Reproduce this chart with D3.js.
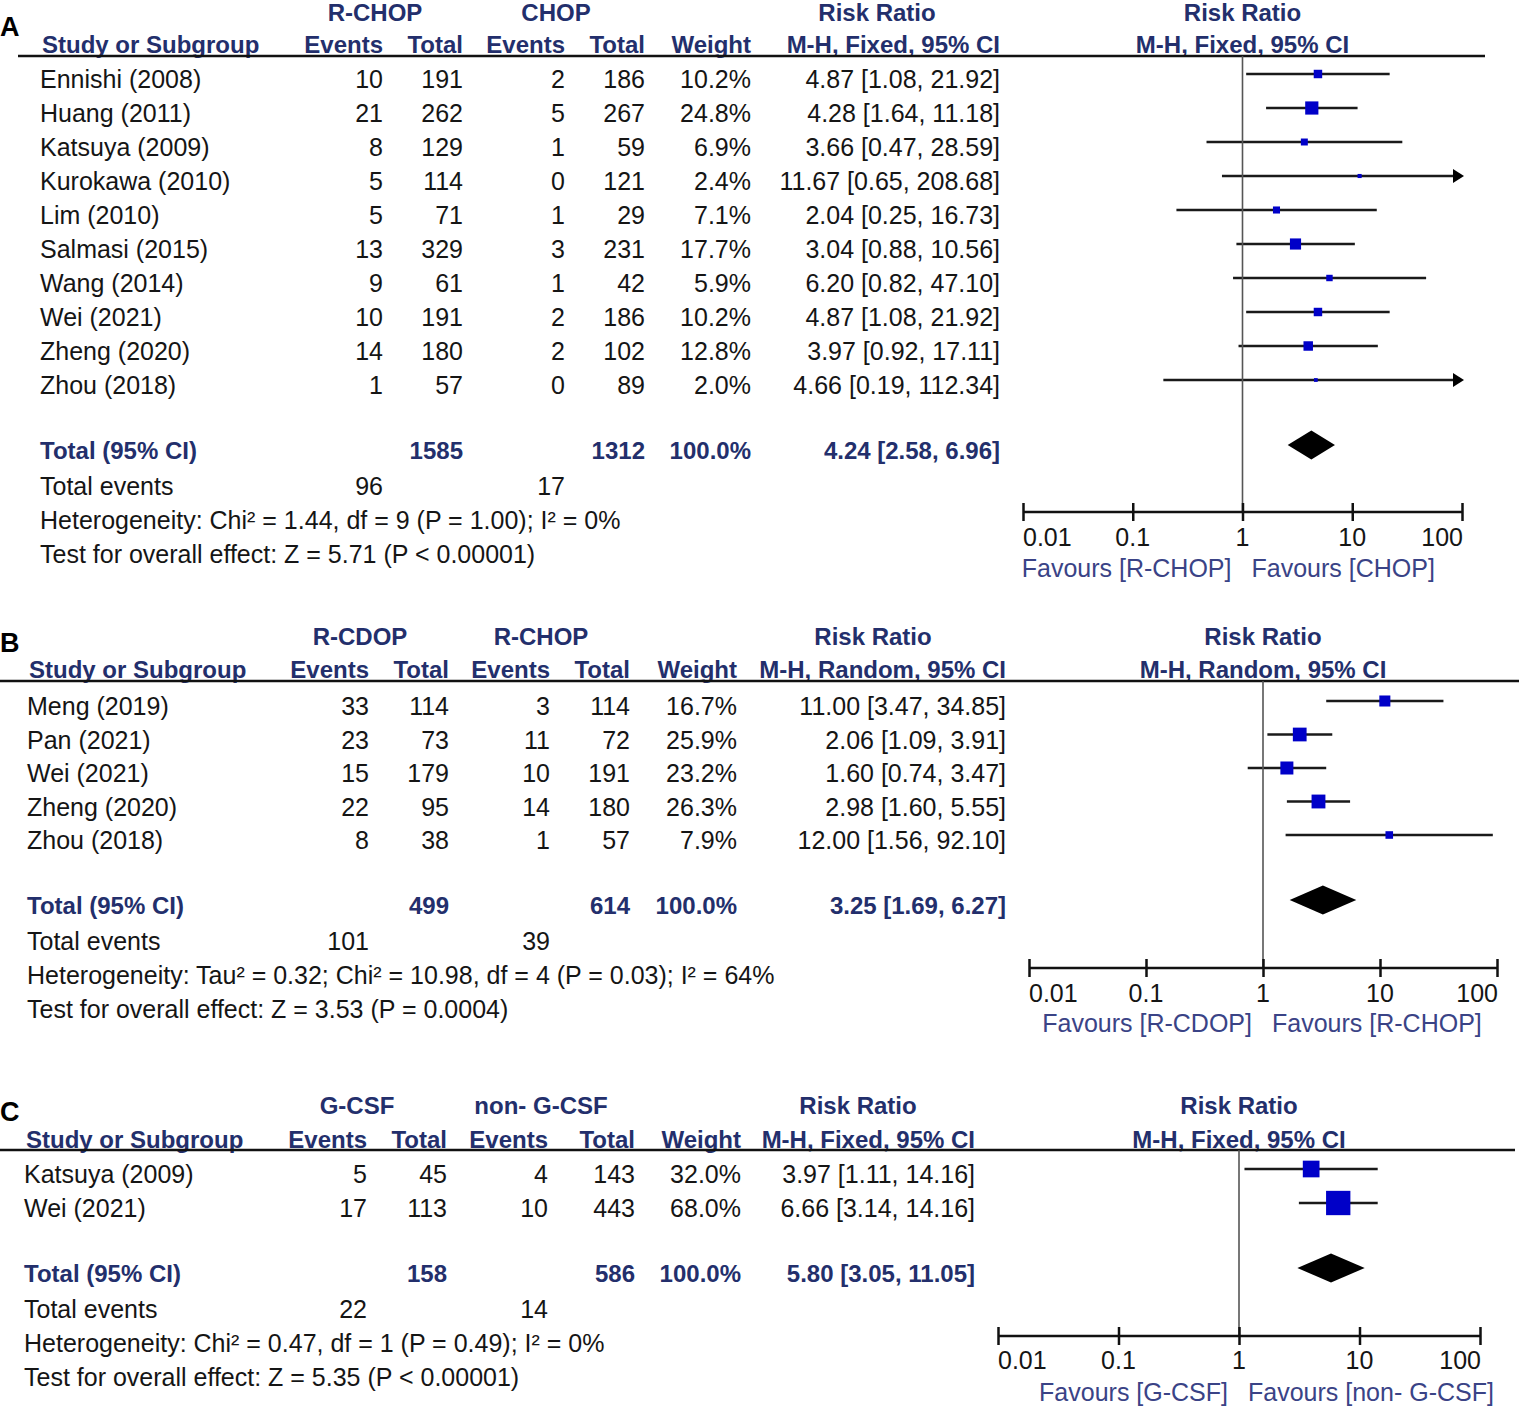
<!DOCTYPE html>
<html>
<head>
<meta charset="utf-8">
<script src="https://cdn.jsdelivr.net/npm/d3@7"></script>
<style>
  body { margin: 0; background: #fff; }
  text { font-family: "Liberation Sans", Arial, sans-serif; }
</style>
</head>
<body>
<div id="chart"></div>
<script>
// Tick labels of the risk ratio axis
var tickValues = [0.01, 0.1, 1, 10, 100];
var tickLabels = ["0.01", "0.1", "1", "10", "100"];

// Panel A: R-CHOP vs CHOP
var studiesA = ["Ennishi (2008)", "Huang (2011)", "Katsuya (2009)", "Kurokawa (2010)", "Lim (2010)",
  "Salmasi (2015)", "Wang (2014)", "Wei (2021)", "Zheng (2020)", "Zhou (2018)"];
var events1A = [10, 21, 8, 5, 5, 13, 9, 10, 14, 1];
var total1A = [191, 262, 129, 114, 71, 329, 61, 191, 180, 57];
var events2A = [2, 5, 1, 0, 1, 3, 1, 2, 2, 0];
var total2A = [186, 267, 59, 121, 29, 231, 42, 186, 102, 89];
var weightA = [10.2, 24.8, 6.9, 2.4, 7.1, 17.7, 5.9, 10.2, 12.8, 2.0];
var rrA = [4.87, 4.28, 3.66, 11.67, 2.04, 3.04, 6.20, 4.87, 3.97, 4.66];
var lowA = [1.08, 1.64, 0.47, 0.65, 0.25, 0.88, 0.82, 1.08, 0.92, 0.19];
var highA = [21.92, 11.18, 28.59, 208.68, 16.73, 10.56, 47.10, 21.92, 17.11, 112.34];
var pooledA = [4.24, 2.58, 6.96];
var sumTotalA = [1585, 1312];
var sumEventsA = [96, 17];
var groupsA = ["R-CHOP", "CHOP"];
var favoursA = ["Favours [R-CHOP]", "Favours [CHOP]"];
var methodA = "M-H, Fixed, 95% CI";
var hetA = "Heterogeneity: Chi\u00b2 = 1.44, df = 9 (P = 1.00); I\u00b2 = 0%";
var testA = "Test for overall effect: Z = 5.71 (P < 0.00001)";

// Panel B: R-CDOP vs R-CHOP
var studiesB = ["Meng (2019)", "Pan (2021)", "Wei (2021)", "Zheng (2020)", "Zhou (2018)"];
var events1B = [33, 23, 15, 22, 8];
var total1B = [114, 73, 179, 95, 38];
var events2B = [3, 11, 10, 14, 1];
var total2B = [114, 72, 191, 180, 57];
var weightB = [16.7, 25.9, 23.2, 26.3, 7.9];
var rrB = [11.00, 2.06, 1.60, 2.98, 12.00];
var lowB = [3.47, 1.09, 0.74, 1.60, 1.56];
var highB = [34.85, 3.91, 3.47, 5.55, 92.10];
var pooledB = [3.25, 1.69, 6.27];
var sumTotalB = [499, 614];
var sumEventsB = [101, 39];
var groupsB = ["R-CDOP", "R-CHOP"];
var favoursB = ["Favours [R-CDOP]", "Favours [R-CHOP]"];
var methodB = "M-H, Random, 95% CI";
var hetB = "Heterogeneity: Tau\u00b2 = 0.32; Chi\u00b2 = 10.98, df = 4 (P = 0.03); I\u00b2 = 64%";
var testB = "Test for overall effect: Z = 3.53 (P = 0.0004)";

// Panel C: G-CSF vs non- G-CSF
var studiesC = ["Katsuya (2009)", "Wei (2021)"];
var events1C = [5, 17];
var total1C = [45, 113];
var events2C = [4, 10];
var total2C = [143, 443];
var weightC = [32.0, 68.0];
var rrC = [3.97, 6.66];
var lowC = [1.11, 3.14];
var highC = [14.16, 14.16];
var pooledC = [5.80, 3.05, 11.05];
var sumTotalC = [158, 586];
var sumEventsC = [22, 14];
var groupsC = ["G-CSF", "non- G-CSF"];
var favoursC = ["Favours [G-CSF]", "Favours [non- G-CSF]"];
var methodC = "M-H, Fixed, 95% CI";
var hetC = "Heterogeneity: Chi\u00b2 = 0.47, df = 1 (P = 0.49); I\u00b2 = 0%";
var testC = "Test for overall effect: Z = 5.35 (P < 0.00001)";

var svgWidth = 1519;
var svgHeight = 1406;

var navy = "#232f6c";
var ink = "#151515";
var boxBlue = "#0000c8";

var f2 = d3.format(".2f");
var f1 = d3.format(".1f");

var svg = d3.select("#chart")
  .append("svg")
  .attr("width", svgWidth)
  .attr("height", svgHeight);

// Layout of each panel (pixel positions only)
var panels = [
  {
    letter: "A", studies: studiesA, e1: events1A, t1: total1A, e2: events2A, t2: total2A,
    w: weightA, rr: rrA, lo: lowA, hi: highA, pooled: pooledA, sumT: sumTotalA, sumE: sumEventsA,
    groups: groupsA, favours: favoursA, method: methodA, het: hetA, test: testA,
    letterY: 36, groupY: 21, headY: 53, ruleY: 56, ruleX: [18, 1485],
    firstRow: 88, step: 34, totalY: 459, eventsY: 495, hetY: 529, testY: 563,
    axisY: 512, tickY: 546, favY: 577, range: [1023, 1462], boxK: 2.65,
    col: { name: 40, e1: 383, t1: 463, e2: 565, t2: 645, w: 751, ci: 1000, g1: 375, g2: 556, rr: 877 }
  },
  {
    letter: "B", studies: studiesB, e1: events1B, t1: total1B, e2: events2B, t2: total2B,
    w: weightB, rr: rrB, lo: lowB, hi: highB, pooled: pooledB, sumT: sumTotalB, sumE: sumEventsB,
    groups: groupsB, favours: favoursB, method: methodB, het: hetB, test: testB,
    letterY: 652, groupY: 645, headY: 678, ruleY: 681, ruleX: [0, 1519],
    firstRow: 715, step: 33.5, totalY: 914, eventsY: 950, hetY: 984, testY: 1018,
    axisY: 968, tickY: 1002, favY: 1032, range: [1029, 1497], boxK: 2.7,
    col: { name: 27, e1: 369, t1: 449, e2: 550, t2: 630, w: 737, ci: 1006, g1: 360, g2: 541, rr: 873 }
  },
  {
    letter: "C", studies: studiesC, e1: events1C, t1: total1C, e2: events2C, t2: total2C,
    w: weightC, rr: rrC, lo: lowC, hi: highC, pooled: pooledC, sumT: sumTotalC, sumE: sumEventsC,
    groups: groupsC, favours: favoursC, method: methodC, het: hetC, test: testC,
    letterY: 1121, groupY: 1114, headY: 1148, ruleY: 1150, ruleX: [0, 1515],
    firstRow: 1183, step: 34, totalY: 1282, eventsY: 1318, hetY: 1352, testY: 1386,
    axisY: 1336, tickY: 1369, favY: 1401, range: [998, 1480], boxK: 2.95,
    col: { name: 24, e1: 367, t1: 447, e2: 548, t2: 635, w: 741, ci: 975, g1: 357, g2: 541, rr: 858 }
  }
];

function addText(g, x, y, str, opts) {
  opts = opts || {};
  return g.append("text")
    .attr("x", x)
    .attr("y", y)
    .attr("text-anchor", opts.anchor || "start")
    .attr("font-size", (opts.size || 25) + "px")
    .attr("font-weight", opts.bold ? "bold" : "normal")
    .attr("fill", opts.color || ink)
    .text(str);
}

panels.forEach(function(p) {
  var g = svg.append("g");
  var c = p.col;
  var n = p.studies.length;
  var rowY = function(i) { return p.firstRow + i * p.step; };

  var x = d3.scaleLog()
    .domain([0.01, 100])
    .range(p.range);
  var side = d3.scaleSqrt().domain([0, 100]).range([0, p.boxK * 10]);

  // Panel letter
  addText(g, 0, p.letterY, p.letter, { size: 27, bold: true, color: "#000" });

  // Header rows
  var hd = { bold: true, color: navy, size: 24 };
  addText(g, c.g1, p.groupY, p.groups[0], Object.assign({ anchor: "middle" }, hd));
  addText(g, c.g2, p.groupY, p.groups[1], Object.assign({ anchor: "middle" }, hd));
  addText(g, c.rr, p.groupY, "Risk Ratio", Object.assign({ anchor: "middle" }, hd));
  addText(g, x(1), p.groupY, "Risk Ratio", Object.assign({ anchor: "middle" }, hd));

  addText(g, c.name + 2, p.headY, "Study or Subgroup", hd);
  addText(g, c.e1, p.headY, "Events", Object.assign({ anchor: "end" }, hd));
  addText(g, c.t1, p.headY, "Total", Object.assign({ anchor: "end" }, hd));
  addText(g, c.e2, p.headY, "Events", Object.assign({ anchor: "end" }, hd));
  addText(g, c.t2, p.headY, "Total", Object.assign({ anchor: "end" }, hd));
  addText(g, c.w, p.headY, "Weight", Object.assign({ anchor: "end" }, hd));
  addText(g, c.ci, p.headY, p.method, Object.assign({ anchor: "end" }, hd));
  addText(g, x(1), p.headY, p.method, Object.assign({ anchor: "middle" }, hd));

  g.append("line")
    .attr("x1", p.ruleX[0]).attr("x2", p.ruleX[1])
    .attr("y1", p.ruleY).attr("y2", p.ruleY)
    .attr("stroke", "#111").attr("stroke-width", 2.5);

  // Study rows
  var rows = g.selectAll(".row")
    .data(d3.range(n))
    .enter()
    .append("g")
    .attr("class", "row");

  rows.each(function(i) {
    var r = d3.select(this);
    var y = rowY(i);
    addText(r, c.name, y, p.studies[i]);
    addText(r, c.e1, y, p.e1[i], { anchor: "end" });
    addText(r, c.t1, y, p.t1[i], { anchor: "end" });
    addText(r, c.e2, y, p.e2[i], { anchor: "end" });
    addText(r, c.t2, y, p.t2[i], { anchor: "end" });
    addText(r, c.w, y, f1(p.w[i]) + "%", { anchor: "end" });
    addText(r, c.ci, y, f2(p.rr[i]) + " [" + f2(p.lo[i]) + ", " + f2(p.hi[i]) + "]", { anchor: "end" });
  });

  // Totals
  var tot = { bold: true, color: navy, size: 24 };
  addText(g, c.name, p.totalY, "Total (95% CI)", tot);
  addText(g, c.t1, p.totalY, p.sumT[0], Object.assign({ anchor: "end" }, tot));
  addText(g, c.t2, p.totalY, p.sumT[1], Object.assign({ anchor: "end" }, tot));
  addText(g, c.w, p.totalY, "100.0%", Object.assign({ anchor: "end" }, tot));
  addText(g, c.ci, p.totalY, f2(p.pooled[0]) + " [" + f2(p.pooled[1]) + ", " + f2(p.pooled[2]) + "]",
    Object.assign({ anchor: "end" }, tot));

  addText(g, c.name, p.eventsY, "Total events");
  addText(g, c.e1, p.eventsY, p.sumE[0], { anchor: "end" });
  addText(g, c.e2, p.eventsY, p.sumE[1], { anchor: "end" });
  addText(g, c.name, p.hetY, p.het);
  addText(g, c.name, p.testY, p.test);

  // Forest plot: line of no effect
  g.append("line")
    .attr("x1", x(1)).attr("x2", x(1))
    .attr("y1", p.ruleY).attr("y2", p.axisY)
    .attr("stroke", "#555").attr("stroke-width", 1.6);

  // Confidence intervals
  var my = function(i) { return rowY(i) - 14; };
  rows.append("line")
    .attr("x1", function(i) { return x(Math.max(p.lo[i], 0.01)); })
    .attr("x2", function(i) { return x(Math.min(p.hi[i], 100)) - (p.hi[i] > 100 ? 6 : 0); })
    .attr("y1", my).attr("y2", my)
    .attr("stroke", "#1a1a1a").attr("stroke-width", 2.4);

  // Arrow heads for intervals beyond the axis
  rows.filter(function(i) { return p.hi[i] > 100; })
    .append("path")
    .attr("d", function(i) {
      var ax = x(100) + 2, ay = my(i);
      return "M" + ax + "," + ay + "L" + (ax - 11) + "," + (ay - 7) + "L" + (ax - 11) + "," + (ay + 7) + "Z";
    })
    .attr("fill", "#000");

  // Weighted boxes
  rows.append("rect")
    .attr("x", function(i) { return x(p.rr[i]) - side(p.w[i]) / 2; })
    .attr("y", function(i) { return my(i) - side(p.w[i]) / 2; })
    .attr("width", function(i) { return side(p.w[i]); })
    .attr("height", function(i) { return side(p.w[i]); })
    .attr("fill", boxBlue);

  // Pooled diamond
  var dy = p.totalY - 14;
  g.append("path")
    .attr("d", "M" + x(p.pooled[1]) + "," + dy +
      "L" + x(p.pooled[0]) + "," + (dy - 14.5) +
      "L" + x(p.pooled[2]) + "," + dy +
      "L" + x(p.pooled[0]) + "," + (dy + 14.5) + "Z")
    .attr("fill", "#000");

  // Axis
  var axis = d3.axisBottom(x)
    .tickValues(tickValues)
    .tickSize(0)
    .tickFormat("");
  var ag = g.append("g")
    .attr("transform", "translate(0," + p.axisY + ")")
    .call(axis);
  ag.select(".domain").attr("stroke", "#111").attr("stroke-width", 2.5).attr("d",
    "M" + p.range[0] + ",0H" + p.range[1]);
  ag.selectAll(".tick").append("line")
    .attr("y1", -9).attr("y2", 9)
    .attr("stroke", "#111").attr("stroke-width", 2.5);

  var anchors = ["start", "middle", "middle", "middle", "end"];
  g.selectAll(".ticklab")
    .data(tickValues)
    .enter()
    .append("text")
    .attr("class", "ticklab")
    .attr("x", function(d) { return x(d) + (d === 100 ? 1 : 0); })
    .attr("y", p.tickY)
    .attr("text-anchor", function(d, i) { return anchors[i]; })
    .attr("font-size", "25px")
    .attr("fill", ink)
    .text(function(d, i) { return tickLabels[i]; });

  addText(g, x(1) - 11, p.favY, p.favours[0], { anchor: "end", color: "#3a4386" });
  addText(g, x(1) + 9, p.favY, p.favours[1], { color: "#3a4386" });
});
</script>
</body>
</html>
